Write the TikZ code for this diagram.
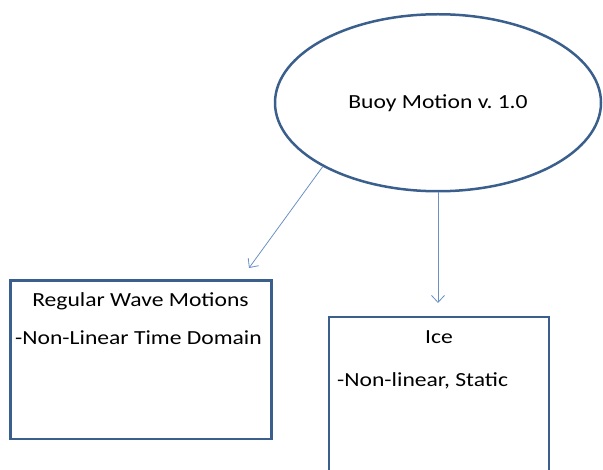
\documentclass[tikz,border=0pt]{standalone}
\usepackage{fontspec}
\setmainfont{Carlito}[FakeStretch=1.18]
\usetikzlibrary{arrows.meta, positioning, shapes.geometric}
\definecolor{shapeblue}{HTML}{3A5F8C}
\definecolor{arrowblue}{HTML}{6A90C4}
\frenchspacing

\begin{document}
\begin{tikzpicture}[x=1pt,y=-1pt,
    oval/.style={ellipse, draw=shapeblue, line width=2.5pt, minimum width=326pt, minimum height=177pt, inner sep=0pt, font=\fontsize{20}{24}\selectfont},
    panel/.style={rectangle, draw=shapeblue, line width=2.5pt, inner sep=0pt},
    conn/.style={draw=arrowblue, line width=0.8pt, -{Straight Barb[length=7pt,width=13pt]}},
    txt/.style={anchor=base, inner sep=0pt, font=\fontsize{20}{24}\selectfont}]

    \useasboundingbox (0,0) rectangle (603,470);

    % Ellipse on top
    \node[oval] (buoy) at (438,102.75) {Buoy Motion v. 1.0};

    % The two boxes
    \node[panel, minimum width=261pt, minimum height=158.5pt] (wave) at (141,359.75) {};
    \node[panel, minimum width=220pt, minimum height=168pt] (ice) at (439,401) {};

    % Texts in the boxes
    \node[txt] (wavetitle) at (140.5,307) {Regular Wave Motions};
    \node[txt, anchor=base west] (wavenote) at (15,345) {-Non-Linear Time Domain};
    \node[txt] (icetitle) at (439,344) {Ice};
    \node[txt, anchor=base west] (icenote) at (337,387) {-Non-linear, Static};

    % Arrows
    \coordinate (wavetip) at (249,268);
    \coordinate (icetip) at (438,303);
    \draw[conn] (buoy.209) -- (wavetip);
    \draw[conn] (buoy.south) -- (icetip);

\end{tikzpicture}
\end{document}
